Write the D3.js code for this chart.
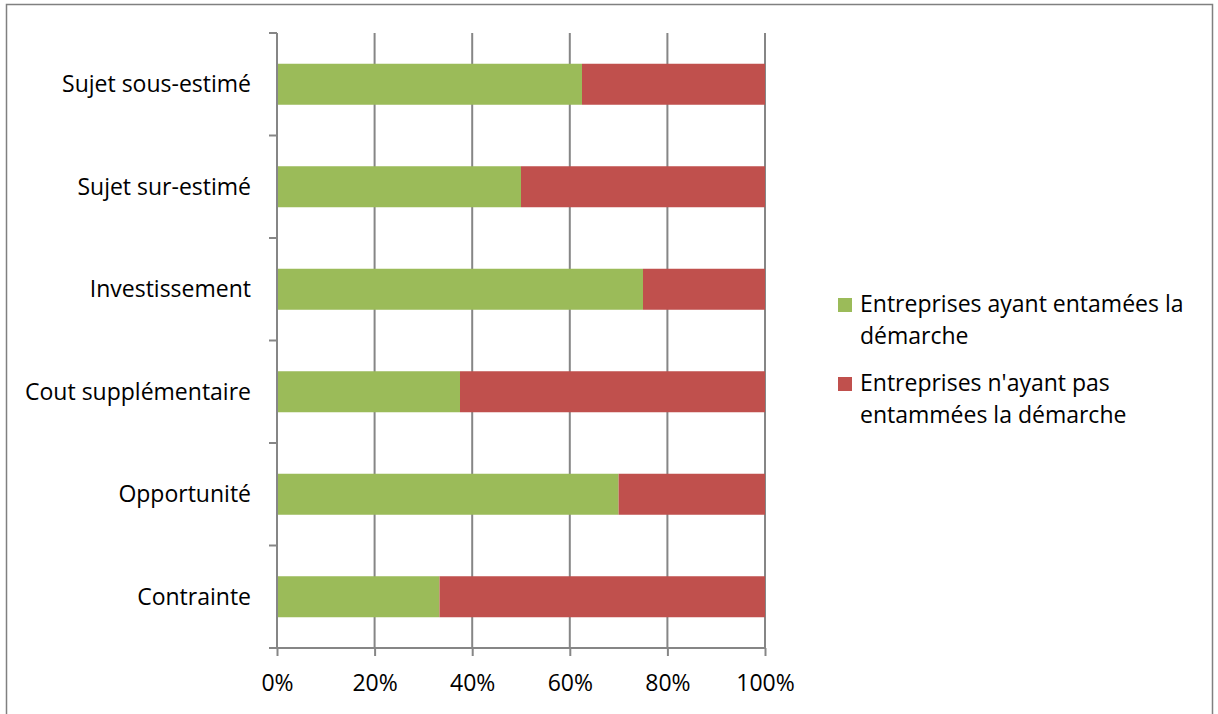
<!DOCTYPE html>
<html>
<head>
<meta charset="utf-8">
<script src="https://cdn.jsdelivr.net/npm/d3@7"></script>
<style>
  body { margin: 0; background: #fff; }
  text { font-family: "Open Sans", sans-serif; fill: #000; }
</style>
</head>
<body>
<svg id="chart" width="1218" height="714"></svg>
<script>
'use strict';

// categories, top to bottom
var categories = ['Sujet sous-estimé', 'Sujet sur-estimé', 'Investissement',
  'Cout supplémentaire', 'Opportunité', 'Contrainte'];
// share of companies (%) that started the process
var engaged = [62.5, 50, 75, 37.5, 70, 33.3];
// share of companies that did not
var notEngaged = [37.5, 50, 25, 62.5, 30, 66.7];
var seriesNames = ['Entreprises ayant entamées la|démarche',
  'Entreprises n\'ayant pas|entammées la démarche'];
var colors = ['#9BBB59', '#C0504D'];
var xTicks = [0, 0.2, 0.4, 0.6, 0.8, 1];

var svg = d3.select('#chart');
var plotLeft = 277, plotRight = 765, plotTop = 33, plotBottom = 648;
var fontSize = '23px';

// outer frame (bottom edge is cut off in the original)
svg.append('path')
  .attr('d', 'M6.5,714 V4.5 H1212.5 V714')
  .attr('fill', 'none')
  .attr('stroke', '#808080')
  .attr('stroke-width', 1.5);

var x = d3.scaleLinear().domain([0, 1]).range([plotLeft, plotRight]);
var y = d3.scaleBand().domain(categories).range([plotTop, plotBottom])
  .paddingInner(0.6).paddingOuter(0.3);

// gridlines
svg.append('g')
  .selectAll('line')
  .data(xTicks.slice(1))
  .enter()
  .append('line')
  .attr('x1', function (d) { return x(d); })
  .attr('x2', function (d) { return x(d); })
  .attr('y1', plotTop)
  .attr('y2', plotBottom)
  .attr('stroke', '#868686')
  .attr('stroke-width', 2);

// stacked bars
var rows = categories.map(function (c, i) {
  var total = engaged[i] + notEngaged[i];
  return {cat: c, a: engaged[i] / total, b: notEngaged[i] / total};
});

svg.append('g').selectAll('rect')
  .data(rows)
  .enter()
  .append('rect')
  .attr('x', function (d) { return x(0); })
  .attr('y', function (d) { return y(d.cat); })
  .attr('width', function (d) { return x(d.a) - x(0); })
  .attr('height', y.bandwidth())
  .attr('fill', colors[0]);

svg.append('g').selectAll('rect')
  .data(rows)
  .enter()
  .append('rect')
  .attr('x', function (d) { return x(d.a); })
  .attr('y', function (d) { return y(d.cat); })
  .attr('width', function (d) { return x(d.a + d.b) - x(d.a); })
  .attr('height', y.bandwidth())
  .attr('fill', colors[1]);

// x axis
var xAxis = svg.append('g')
  .attr('transform', 'translate(0,' + plotBottom + ')')
  .call(d3.axisBottom(x).tickValues(xTicks).tickSize(8).tickSizeOuter(0)
    .tickFormat(d3.format('.0%')));
xAxis.select('.domain').remove();
xAxis.append('line')
  .attr('x1', plotLeft - 8).attr('x2', plotRight)
  .attr('stroke', '#868686').attr('stroke-width', 2);
xAxis.selectAll('.tick line').attr('stroke', '#868686').attr('stroke-width', 2);
xAxis.selectAll('.tick text')
  .attr('y', 43)
  .attr('dy', null)
  .style('font-size', fontSize)
  .style('font-family', '"Open Sans", sans-serif')
  .attr('fill', '#000');

// y axis: line plus ticks on band boundaries
var yAxis = svg.append('g');
yAxis.append('line')
  .attr('x1', plotLeft).attr('x2', plotLeft)
  .attr('y1', plotTop).attr('y2', plotBottom)
  .attr('stroke', '#868686').attr('stroke-width', 2);
var step = y.step();
yAxis.selectAll('line.tk')
  .data(d3.range(categories.length))
  .enter()
  .append('line')
  .attr('class', 'tk')
  .attr('x1', plotLeft - 8).attr('x2', plotLeft)
  .attr('y1', function (i) { return plotTop + i * step; })
  .attr('y2', function (i) { return plotTop + i * step; })
  .attr('stroke', '#868686').attr('stroke-width', 2);
yAxis.selectAll('text')
  .data(categories)
  .enter()
  .append('text')
  .attr('x', 251)
  .attr('y', function (d) { return y(d) + y.bandwidth() / 2; })
  .attr('dy', '0.35em')
  .attr('text-anchor', 'end')
  .style('font-size', fontSize)
  .text(function (d) { return d; });

// legend
var legend = svg.append('g').selectAll('g')
  .data(seriesNames)
  .enter()
  .append('g')
  .attr('transform', function (d, i) { return 'translate(838,' + (298 + i * 79) + ')'; });
legend.append('rect')
  .attr('width', 14).attr('height', 14)
  .attr('fill', function (d, i) { return colors[i]; });
legend.append('text')
  .attr('x', 22)
  .attr('y', 14)
  .style('font-size', fontSize)
  .selectAll('tspan')
  .data(function (d) { return d.split('|'); })
  .enter()
  .append('tspan')
  .attr('x', 22)
  .attr('dy', function (d, i) { return i ? 32 : 0; })
  .text(function (d) { return d; });
</script>
</body>
</html>
